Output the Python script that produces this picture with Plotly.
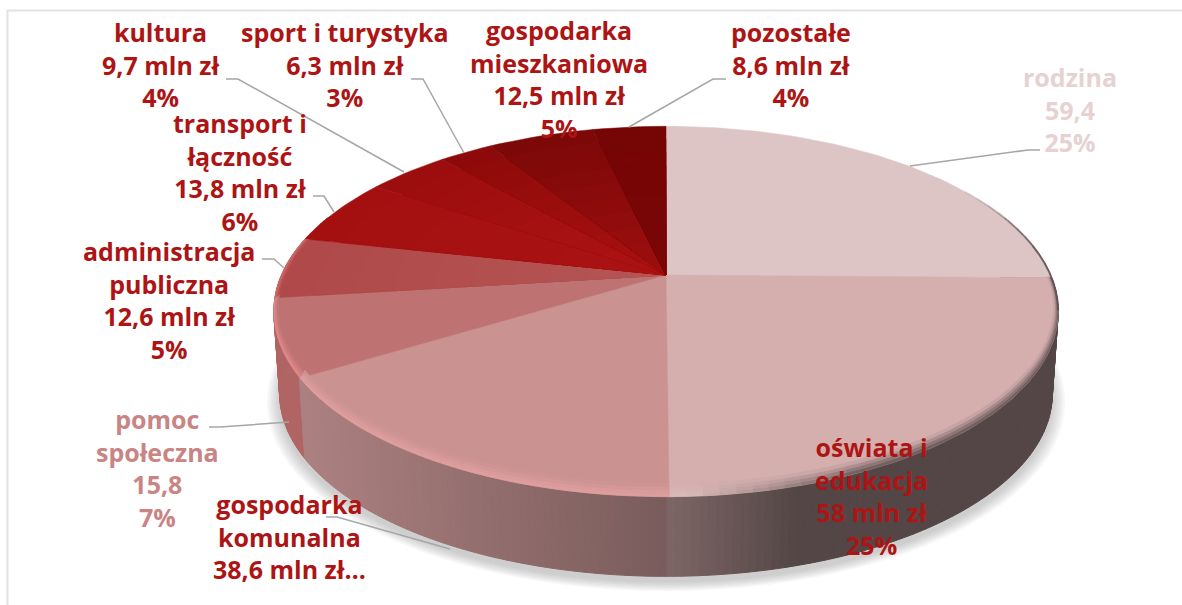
import math
import plotly.graph_objects as go

# ---- data ----
categories = ["rodzina", "oświata i edukacja", "gospodarka komunalna", "pomoc społeczna",
              "administracja publiczna", "transport i łączność", "kultura",
              "sport i turystyka", "gospodarka mieszkaniowa", "pozostałe"]
values = [59.4, 58, 38.6, 15.8, 12.6, 13.8, 9.7, 6.3, 12.5, 8.6]
value_labels = ["59,4", "58 mln zł", "38,6 mln zł…", "15,8", "12,6 mln zł", "13,8 mln zł",
                "9,7 mln zł", "6,3 mln zł", "12,5 mln zł", "8,6 mln zł"]
percent_labels = ["25%", "25%", "", "7%", "5%", "6%", "4%", "3%", "5%", "4%"]
name_lines = [["rodzina"], ["oświata i", "edukacja"], ["gospodarka", "komunalna"], ["pomoc", "społeczna"],
              ["administracja", "publiczna"], ["transport i", "łączność"], ["kultura"],
              ["sport i turystyka"], ["gospodarka", "mieszkaniowa"], ["pozostałe"]]

# ---- styling ----
top_outer = [(221,197,197),(213,174,174),(203,146,146),(190,114,114),(176,74,74),
             (164,16,16),(156,14,14),(142,10,10),(124,8,8),(118,5,5)]
top_inner = [(221,197,197),(213,174,174),(203,146,146),(190,114,114),(180,84,84),
             (170,18,18),(172,18,18),(168,16,16),(156,14,14),(122,6,6)]
text_colors = ["#E6D2D2","#AD1414","#AD1414","#C98484","#AD1414","#AD1414","#AD1414","#AD1414","#AD1414","#AD1414"]
label_pos = [(1070,109),(871,496),(289,536),(157,468),(169,300),(240,172),(161,64),(345,64),(559,79),(791,64)]
leaders = {0:[(1040,150),(1028,150),(910,166)],2:[(326,517),(337,517),(450,549)],
           3:[(209,427),(220,427),(289,422)],4:[(262,259),(274,259),(284,268)],
           5:[(313,196),(324,196),(334,212)],6:[(226,79),(238,79),(404,172)],
           7:[(411,79),(423,79),(464,153)],8:[(726,79),(713,79),(629,127)],9:[]}
FONT = "Open Sans"
FS = 25

CX, CY, R, A, B = 666, 275, 384.5, 178, 0.197
DEPTH, SC = 83, 0.985

def proj(th, r=1.0, level=0.0):
    X, Y = r*math.sin(th), r*math.cos(th)
    d = 1 + B*Y
    s = 1 - (1-SC)*level
    return CX + s*R*X/d, CY + DEPTH*level - s*A*Y/d

def mix(c1, c2, t):
    t = max(0, min(1, t))
    return tuple(c1[i] + (c2[i]-c1[i])*t for i in range(3))

def rgb(c):
    return "rgb(%d,%d,%d)" % tuple(round(v) for v in c)

fig = go.Figure()

def poly(pts, color, alpha=None, lw=1):
    xs = [p[0] for p in pts] + [pts[0][0]]
    ys = [p[1] for p in pts] + [pts[0][1]]
    col = color if alpha is None else color.replace("rgb(", "rgba(").replace(")", ",%g)" % alpha)
    fig.add_trace(go.Scatter(x=xs, y=ys, mode="lines", fill="toself", fillcolor=col,
                             line=dict(color=col, width=lw if alpha is None else 0),
                             hoverinfo="skip", showlegend=False))

total = sum(values)
edges = [0.0]
for v in values:
    edges.append(edges[-1] + v/total*2*math.pi)

def arc(t0, t1, r=1.0, level=0.0, step=math.radians(1.5)):
    n = max(2, int((t1-t0)/step))
    return [proj(t0+(t1-t0)*i/n, r, level) for i in range(n+1)]

# soft shadow
for k in range(8):
    grow = 1.032 - 0.0045*k
    pts = []
    for i in range(120):
        th = i*2*math.pi/120
        x, y = proj(th, grow, 1.0)
        pts.append((x, y + 6))
    poly(pts, "rgb(110,110,110)", 0.05)

# side wall
def side_color(i, x):
    if i == 1:
        return mix((126,102,102),(84,70,70),(x-666)/130)
    if i == 0:
        return (84,70,70)
    if i == 2:
        return mix((172,128,128),(122,92,92),(x-305)/361)
    return (176,100,100)

def seg_index(th):
    for i in range(len(values)):
        if edges[i] <= th < edges[i+1]:
            return i
    return 0

st = math.radians(1)
ths = [math.radians(70) + st*i for i in range(int(math.radians(220)/st))]
ths.sort(key=lambda t: -abs(t-math.pi))
for th in ths:
    a0 = proj(th); a1 = proj(th+st); b1 = proj(th+st, 1, 1); b0 = proj(th, 1, 1)
    c = side_color(seg_index(th+st/2), (a0[0]+a1[0])/2)
    poly([a0, a1, b1, b0], rgb(c))

# top faces with a light radial shading
for i in range(len(values)):
    layers = 10 if top_outer[i] != top_inner[i] else 1
    for l in range(layers):
        r = 1 - l/layers
        c = mix(top_outer[i], top_inner[i], l/max(1, layers-1))
        pts = [(CX, CY)] + arc(edges[i], edges[i+1], r)
        poly(pts, rgb(c), lw=0.5)

# rim bevel: soft strips along the front edge, from the wall to the top colour
rim_colors = {1:(218,186,186),2:(226,160,160),3:(230,140,140),4:(216,112,112)}
bst = math.radians(2)
STRIPS = 4
def q(t, u):
    lift = max(0.0, -math.cos(t))**0.6
    return proj(t, 1-0.012*u, -0.125*u*lift)
for i in range(1, 5):
    n = max(1, int((edges[i+1]-edges[i])/bst))
    for j in range(n):
        t0 = edges[i]+(edges[i+1]-edges[i])*j/n
        t1 = edges[i]+(edges[i+1]-edges[i])*(j+1)/n
        xm = proj((t0+t1)/2)[0]
        rc = rim_colors[i]
        if i == 1:
            rc = mix(rc, (100,84,84), (xm-690)/170)
        for s in range(STRIPS):
            u0, u1 = s/STRIPS, (s+1)/STRIPS
            c = mix(rc, top_outer[i], (s+0.5)/STRIPS)
            poly([q(t0,u0), q(t1,u0), q(t1,u1), q(t0,u1)], rgb(c), lw=0.5)

# dark edge on the right shoulder, fading in
sh = [math.radians(56 + 3*k) for k in range(16)]
for k in range(len(sh)-1):
    p0, p1 = proj(sh[k]), proj(sh[k+1])
    fig.add_trace(go.Scatter(x=[p0[0],p1[0]], y=[p0[1],p1[1]], mode="lines",
                             line=dict(color="rgba(90,75,75,%.2f)" % min(0.8, k/10), width=2),
                             hoverinfo="skip", showlegend=False))

# leader lines
for i, pts in leaders.items():
    if pts:
        fig.add_trace(go.Scatter(x=[p[0] for p in pts], y=[p[1] for p in pts], mode="lines",
                                 line=dict(color="#A6A6A6", width=1.5),
                                 hoverinfo="skip", showlegend=False))

# labels
for i in range(len(values)):
    lines = list(name_lines[i]) + [value_labels[i]]
    if percent_labels[i]:
        lines.append(percent_labels[i])
    fig.add_annotation(x=label_pos[i][0], y=label_pos[i][1], text="<br>".join(lines),
                       showarrow=False, align="center", xanchor="center", yanchor="middle",
                       font=dict(family=FONT, size=FS, color=text_colors[i], weight=700))

# chart frame
fig.add_trace(go.Scatter(x=[7.5,7.5,1182], y=[605,10.5,10.5], mode="lines",
                         line=dict(color="#E2E2E2", width=2), hoverinfo="skip", showlegend=False))

fig.update_xaxes(range=[0,1182], visible=False, fixedrange=True)
fig.update_yaxes(range=[605,0], visible=False, fixedrange=True)
fig.update_layout(width=1182, height=605, margin=dict(l=0,r=0,t=0,b=0), showlegend=False,
                  paper_bgcolor="white", plot_bgcolor="white")
fig.write_html("out.html", config={"displayModeBar": False},
               post_script="document.body.style.margin='0';document.body.style.overflow='hidden';")
